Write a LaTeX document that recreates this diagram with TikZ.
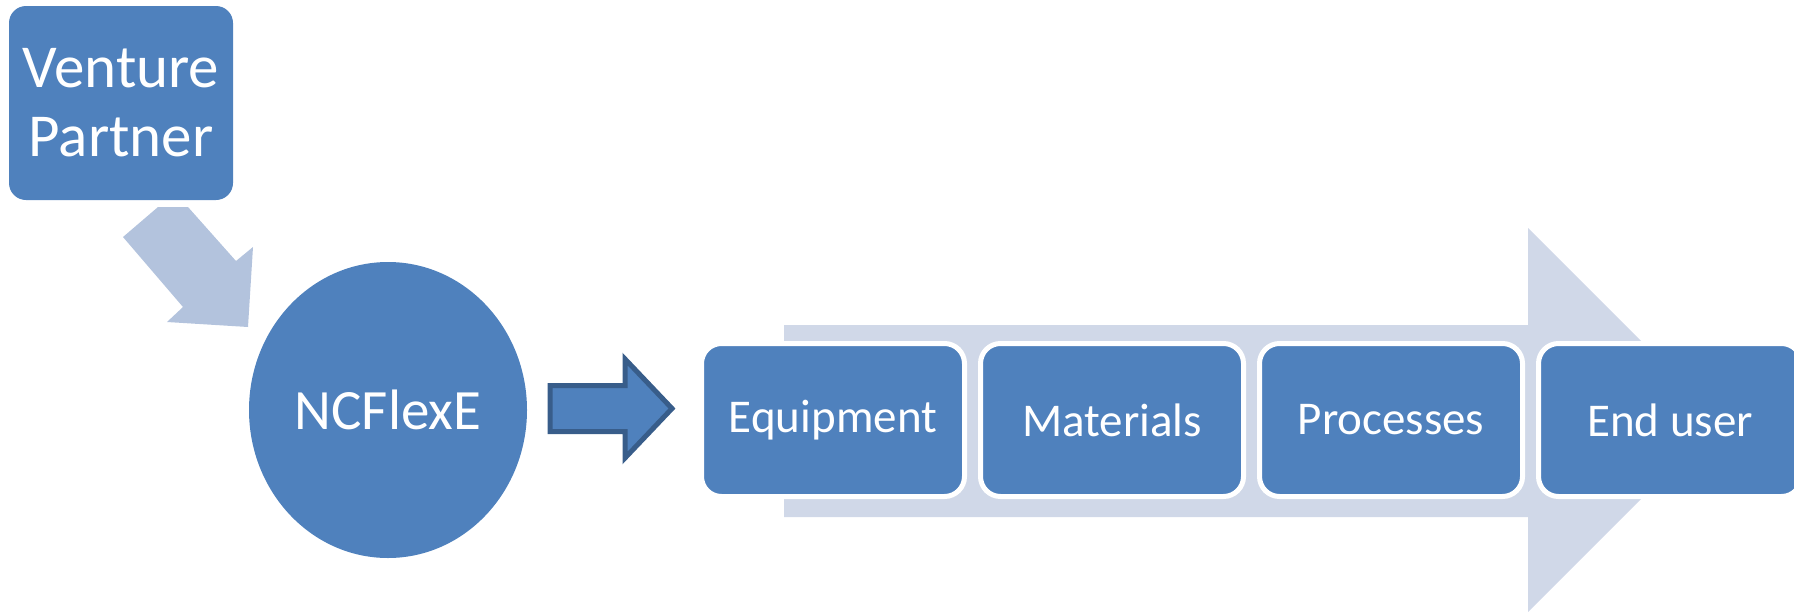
\documentclass[tikz,border=0pt]{standalone}
\usepackage{fontspec}
\setmainfont{Carlito}
\usetikzlibrary{shapes.geometric}
\definecolor{boxblue}{HTML}{4F81BD}
\definecolor{lightarrow}{HTML}{B3C3DD}
\definecolor{bgarrow}{HTML}{D0D8E8}
\definecolor{darkedge}{HTML}{385D8A}
\begin{document}
\begin{tikzpicture}[x=1pt,y=-1pt,
  stagebox/.style={rectangle, rounded corners=20pt, fill=boxblue, draw=white,
    line width=5pt, minimum width=263pt, minimum height=153pt, inner sep=0pt,
    text=white, font=\fontsize{47}{56}\selectfont},
  partnerbox/.style={rectangle, rounded corners=17pt, fill=boxblue,
    minimum width=224pt, minimum height=194pt, inner sep=0pt, align=center,
    text=white, font=\fontsize{61}{69}\selectfont},
  hubnode/.style={ellipse, fill=boxblue, minimum width=278pt, minimum height=296pt,
    inner sep=0pt, text=white, font=\fontsize{57}{69}\selectfont},
  lightblock/.style={fill=lightarrow},
  bgblock/.style={fill=bgarrow},
  darkblock/.style={fill=boxblue, draw=darkedge, line width=5pt, line join=miter}]
\useasboundingbox (0,0) rectangle (1794,611);

% background chain arrow
\path[bgblock] (784,325) -- (1528,325) -- (1528,228) -- (1720,420)
  -- (1528,612) -- (1528,517) -- (784,517) -- cycle;

% nodes
\node[partnerbox] (partner) at (121,103) {Venture\\Partner};
\node[hubnode] (hub) at (388,410) {NCFlexE};

\node[stagebox] (equip) at (833,420) {Equipment};
\node[stagebox] (mater) at (1112,420) {Materials};
\node[stagebox] (proc) at (1391,420) {Processes};
\node[stagebox] (enduser) at (1670,420) {End user};

% light block arrow from partner to hub
\path[lightblock] (123,237) -- (158,207) -- (188,207) -- (236,261) -- (253,247)
  -- (248,327) -- (167,322) -- (183,307) -- cycle;

% dark block arrow from hub to chain
\path[darkblock] (550,385.5) -- (625,385.5) -- (625,359) -- (672,408.5)
  -- (625,458) -- (625,431.5) -- (550,431.5) -- cycle;
\end{tikzpicture}
\end{document}
